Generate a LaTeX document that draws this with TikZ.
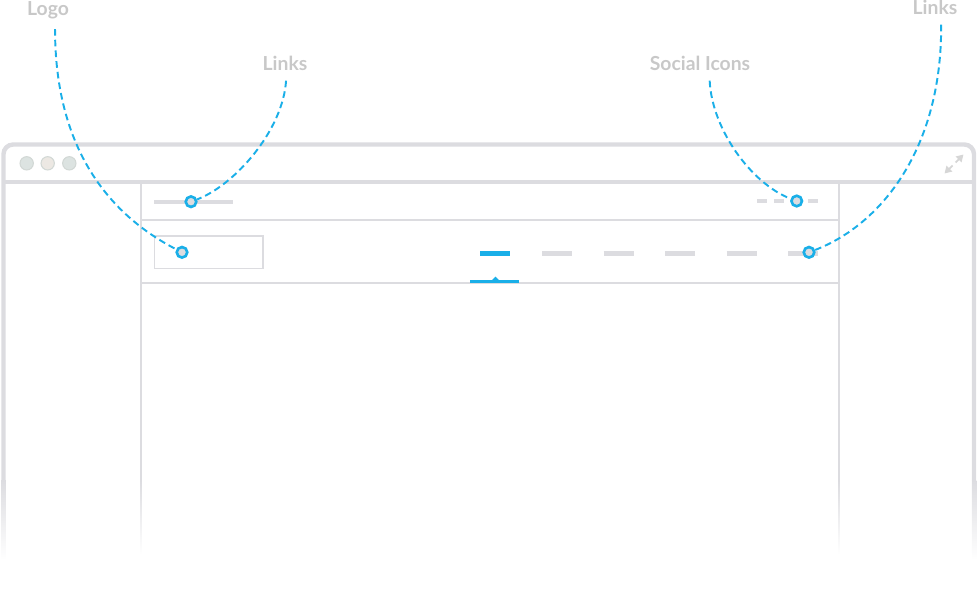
\documentclass[tikz,border=0pt]{standalone}
\usepackage{fontspec}
\setmainfont{Lato}
\usepackage{xcolor}
\usetikzlibrary{arrows.meta, positioning}
\definecolor{wire}{HTML}{DCDCE0}
\definecolor{accent}{HTML}{1AAFE8}
\definecolor{tagtext}{HTML}{C8C8C8}
\definecolor{dotgreen}{HTML}{DCE3E1}
\definecolor{dotsand}{HTML}{ECE8E3}
\definecolor{dotrim}{HTML}{D2D8D5}
\definecolor{iconarrow}{HTML}{D6D6D6}

\begin{document}
\begin{tikzpicture}[
  x=0.02cm, y=-0.02cm,
  frame/.style={draw=wire, line width=2.5pt},
  rule/.style={draw=wire, line width=1pt},
  bar/.style={draw=wire, line width=2.3pt},
  navbar/.style={draw=#1, line width=2.8pt},
  pin/.style={
    circle, draw=accent, fill=wire,
    line width=1.5pt, minimum size=6pt, inner sep=0pt
  },
  light/.style={
    circle, draw=dotrim, fill=#1,
    line width=0.6pt, minimum size=7.6pt, inner sep=0pt
  },
  tag/.style={
    font=\bfseries\fontsize{11}{13}\selectfont, text=tagtext,
    anchor=base, inner sep=0pt, outer sep=6pt
  },
  callout/.style={accent, line width=1.1pt, dash pattern=on 3.8pt off 2.3pt}
]
\useasboundingbox (0,0) rectangle (980,609);

% Browser window
\draw[frame, rounded corners=5.5pt] (3.5,480) |- (974,144.5) -- (974,480);
\draw[frame] (3.5,182) -- (974,182);
\shade[top color=wire, bottom color=white] (1.25,480) rectangle (5.75,560);
\shade[top color=wire, bottom color=white] (971.75,480) rectangle (976.25,560);

% Window buttons
\node[light=dotgreen] (btnclose) at (26.7,163.3) {};
\node[light=dotsand]  (btnmin)   at (47.7,163.3) {};
\node[light=dotgreen] (btnmax)   at (69.3,163.3) {};

% Expand icon
\draw[iconarrow, line width=1pt, -{Triangle[length=4pt, width=4.5pt]}]
  (955.5,162.5) -- (963.5,154.5);
\draw[iconarrow, line width=1pt, -{Triangle[length=4pt, width=4.5pt]}]
  (952.5,165.5) -- (944.5,173.5);

% Page column
\draw[rule] (141,182) -- (141,480);
\draw[rule] (839,182) -- (839,480);
\shade[top color=wire, bottom color=white] (140.1,480) rectangle (141.9,555);
\shade[top color=wire, bottom color=white] (838.1,480) rectangle (839.9,555);
\draw[rule] (141,219.8) -- (839,219.8);
\draw[rule] (141,283) -- (839,283);

% Top bar
\draw[bar] (154,202) -- (233,202);
\foreach \x in {757,774,791,808}
  \draw[bar] (\x,201) -- ++(10,0);

% Header: logo box and navigation
\node[draw=wire, line width=0.85pt, minimum width=61.8pt, minimum height=18.7pt,
      inner sep=0pt] (logobox) at (208.8,252.2) {};
\draw[navbar=accent] (480,253.5) -- (510,253.5);
\foreach \x in {542,603.5,665,726.5,788}
  \draw[navbar=wire] (\x,253.5) -- ++(30,0);

% Active marker
\draw[accent, line width=1.7pt] (470,281.5) -- (519,281.5);
\fill[accent] (491,281) -- (495.5,276.5) -- (500,281) -- cycle;

% Pins
\node[pin] (logopin)   at (182,252.3) {};
\node[pin] (toppin)    at (191,201.7) {};
\node[pin] (socialpin) at (796.7,201) {};
\node[pin] (navpin)    at (809,252.3) {};

% Labels
\node[tag] (logotag)    at (48,15)   {Logo};
\node[tag] (toptag)     at (285,70)  {Links};
\node[tag] (socialtag)  at (700,70)  {Social Icons};
\node[tag] (navtag)     at (935,14)  {Links};

% Callouts
\draw[callout] ([xshift=4pt]logotag.south)
  .. controls (55,150) and (110,215) .. (logopin);
\draw[callout] ([xshift=0.6pt]toptag.south)
  .. controls (283,130) and (235,185) .. (toppin);
\draw[callout] ([xshift=5.5pt]socialtag.south)
  .. controls (712,130) and (752,184) .. (socialpin);
\draw[callout] ([xshift=3.5pt]navtag.south)
  .. controls (942,150) and (880,225) .. (navpin);

\end{tikzpicture}
\end{document}
